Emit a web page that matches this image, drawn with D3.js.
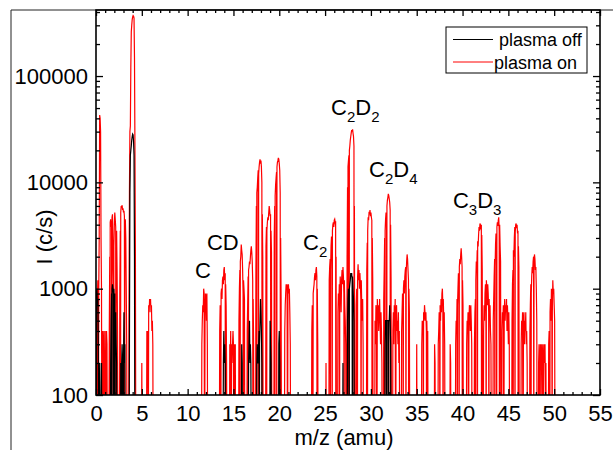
<!DOCTYPE html>
<html><head><meta charset="utf-8">
<script src="https://cdn.jsdelivr.net/npm/d3@7/dist/d3.min.js"></script>
<style>
html,body{margin:0;padding:0;background:#fff;}
svg{display:block;font-family:"Liberation Sans",Arial,sans-serif;}
</style></head>
<body>
<svg id="chart" width="613" height="450"></svg>
<script>
// ---- data: m/z (amu) vs intensity (c/s); 0 = below detection (off-scale) ----
const seriesNames = ["plasma off", "plasma on"];
const xMajorTicks = [0,5,10,15,20,25,30,35,40,45,50,55];
const xMinorTicks = d3.range(0,56,1).filter(v => v % 5 !== 0);
const yMajorTicks = [100,1000,10000,100000];
const yMinorTicks = [200,300,400,500,600,700,800,900,2000,3000,4000,5000,6000,7000,8000,9000,
  20000,30000,40000,50000,60000,70000,80000,90000,200000,300000,400000];

const plasmaOn = [
[0.0,0],[0.05,300],[0.1,0],[0.15,800],[0.2,1200],[0.25,0],[0.3,1000],[0.35,3000],[0.4,43000],[0.45,40000],[0.5,30000],[0.55,3000],[0.6,1000],[0.65,0],[0.7,400],[0.75,0],[0.8,300],[0.85,400],[0.9,0],[1.0,400],[1.05,0],[1.15,400],[1.2,300],[1.25,0],
[1.4,0],[1.45,400],[1.5,2000],[1.55,4200],[1.6,4500],[1.65,3800],[1.7,4300],[1.75,4700],[1.8,5000],[1.85,2000],[1.9,1200],[1.95,2500],[2.0,4000],[2.05,5200],[2.1,4500],[2.15,3800],[2.2,3000],[2.25,3500],[2.3,1500],[2.35,400],[2.4,0],
[2.55,0],[2.6,1000],[2.65,3500],[2.7,5200],[2.75,6000],[2.8,5800],[2.85,6100],[2.9,5500],[2.95,5700],[3.0,5200],[3.05,5400],[3.1,4800],[3.15,4000],[3.2,4500],[3.25,3000],[3.3,1000],[3.35,300],[3.4,0],
[3.55,0],[3.6,600],[3.65,8000],[3.7,30000],[3.75,34000],[3.8,120000],[3.85,260000],[3.9,300000],[3.95,340000],[4.0,360000],[4.05,370000],[4.1,365000],[4.15,350000],[4.2,150000],[4.25,20000],[4.3,2000],[4.35,0],
[4.95,0],[5.0,200],[5.05,0],
[5.5,0],[5.55,400],[5.6,300],[5.65,400],[5.7,0],[5.75,700],[5.8,600],[5.85,800],[5.9,700],[5.95,800],[6.0,600],[6.05,700],[6.1,400],[6.15,500],[6.2,300],[6.25,0],
[11.5,0],[11.55,300],[11.6,500],[11.65,700],[11.7,600],[11.75,1000],[11.8,900],[11.85,0],[11.9,600],[11.95,900],[12.0,800],[12.05,500],[12.1,900],[12.15,300],[12.2,0],
[13.45,0],[13.5,400],[13.55,700],[13.6,600],[13.65,900],[13.7,1000],[13.75,800],[13.8,1200],[13.85,1300],[13.9,1100],[13.95,1500],[14.0,1600],[14.05,1200],[14.1,1400],[14.15,1100],[14.2,700],[14.25,200],[14.3,0],
[14.55,0],[14.6,300],[14.65,200],[14.7,400],[14.75,0],[14.8,300],[14.85,200],[14.9,300],[14.95,400],[15.0,300],[15.05,0],[15.1,300],[15.15,200],[15.2,300],[15.25,0],
[15.55,0],[15.6,500],[15.65,1000],[15.7,1500],[15.75,1800],[15.8,2000],[15.85,2600],[15.9,2300],[15.95,2100],[16.0,1500],[16.05,900],[16.1,1200],[16.15,1000],[16.2,800],[16.25,0],
[16.45,0],[16.5,400],[16.55,700],[16.6,1300],[16.65,1500],[16.7,1600],[16.75,1800],[16.8,1700],[16.85,2000],[16.9,2300],[16.95,2500],[17.0,2200],[17.05,1800],[17.1,1200],[17.15,800],[17.2,300],[17.25,0],
[17.4,0],[17.45,1500],[17.5,6000],[17.55,8000],[17.6,9000],[17.65,11000],[17.7,13000],[17.75,12000],[17.8,14000],[17.85,15500],[17.9,16500],[17.95,15000],[18.0,16000],[18.05,14000],[18.1,10000],[18.15,5000],[18.2,2000],[18.25,0],
[18.5,0],[18.55,2500],[18.6,3800],[18.65,3500],[18.7,4200],[18.75,4700],[18.8,4400],[18.85,5200],[18.9,6000],[18.95,5500],[19.0,4800],[19.05,5000],[19.1,3500],[19.15,2200],[19.2,0],
[19.4,0],[19.45,3000],[19.5,6000],[19.55,7500],[19.6,9500],[19.65,11000],[19.7,12500],[19.75,14000],[19.8,15500],[19.85,16000],[19.9,17000],[19.95,16500],[20.0,15000],[20.05,13000],[20.1,8000],[20.15,3000],[20.2,800],[20.25,0],
[20.55,0],[20.6,400],[20.65,700],[20.7,900],[20.75,1100],[20.8,1000],[20.85,1100],[20.9,0],[20.95,1000],[21.0,1100],[21.05,900],[21.1,1000],[21.15,600],[21.2,300],[21.25,0],
[23.5,0],[23.55,400],[23.6,700],[23.65,600],[23.7,900],[23.75,1000],[23.8,1100],[23.85,1300],[23.9,1400],[23.95,1200],[24.0,1500],[24.05,1600],[24.1,1300],[24.15,1000],[24.2,300],[24.25,0],
[25.05,0],[25.1,200],[25.15,0],
[25.4,0],[25.45,1200],[25.5,1600],[25.55,1900],[25.6,1500],[25.65,2500],[25.7,3100],[25.75,2800],[25.8,3500],[25.85,4000],[25.9,4200],[25.95,3800],[26.0,4400],[26.05,4500],[26.1,4200],[26.15,4300],[26.2,2000],[26.25,0],
[26.35,0],[26.4,600],[26.45,900],[26.5,700],[26.55,1100],[26.6,800],[26.65,1300],[26.7,1000],[26.75,600],[26.8,1200],[26.85,1500],[26.9,1100],[26.95,1600],[27.0,1300],[27.05,900],[27.1,1200],[27.15,700],[27.2,500],[27.25,300],[27.3,0],
[27.35,0],[27.4,2000],[27.45,9000],[27.5,14000],[27.55,16000],[27.6,18000],[27.65,20000],[27.7,22000],[27.75,25000],[27.8,27000],[27.85,29000],[27.9,31000],[27.95,30000],[28.0,31500],[28.05,29000],[28.1,27000],[28.15,22000],[28.2,6000],[28.25,0],
[28.35,0],[28.4,700],[28.45,1000],[28.5,800],[28.55,1300],[28.6,1700],[28.65,1200],[28.7,1500],[28.75,1000],[28.8,1400],[28.85,1100],[28.9,800],[28.95,1200],[29.0,700],[29.05,500],[29.1,800],[29.15,300],[29.2,0],
[29.5,0],[29.55,1500],[29.6,2700],[29.65,3500],[29.7,4700],[29.75,4400],[29.8,5300],[29.85,5000],[29.9,5500],[29.95,4800],[30.0,5200],[30.05,4700],[30.1,4400],[30.15,3000],[30.2,1200],[30.25,0],
[30.4,0],[30.45,500],[30.5,300],[30.55,700],[30.6,600],[30.65,0],[30.7,800],[30.75,500],[30.8,700],[30.85,400],[30.9,600],[30.95,800],[31.0,500],[31.05,300],[31.1,600],[31.15,400],[31.2,200],[31.25,0],
[31.35,0],[31.4,800],[31.45,1500],[31.5,3000],[31.55,3500],[31.6,4500],[31.65,5200],[31.7,5000],[31.75,6000],[31.8,6800],[31.85,7200],[31.9,7800],[31.95,7500],[32.0,7000],[32.05,6500],[32.1,5500],[32.15,4000],[32.2,1200],[32.25,0],
[32.35,0],[32.4,400],[32.45,600],[32.5,300],[32.55,700],[32.6,500],[32.65,800],[32.7,0],[32.75,600],[32.8,700],[32.85,400],[32.9,500],[32.95,300],[33.0,600],[33.05,200],[33.1,400],[33.15,0],
[33.3,0],[33.35,400],[33.4,600],[33.45,900],[33.5,700],[33.55,1000],[33.6,1200],[33.65,900],[33.7,1300],[33.75,1500],[33.8,1600],[33.85,1400],[33.9,1800],[33.95,2100],[34.0,1900],[34.05,1500],[34.1,1200],[34.15,1000],[34.2,600],[34.25,0],
[34.95,0],[35.0,300],[35.05,0],
[35.5,0],[35.55,300],[35.6,500],[35.65,400],[35.7,500],[35.75,600],[35.8,500],[35.85,700],[35.9,600],[35.95,500],[36.0,600],[36.05,400],[36.1,500],[36.15,300],[36.2,400],[36.25,0],
[36.9,0],[36.95,300],[37.0,200],[37.05,0],
[37.3,0],[37.35,300],[37.4,400],[37.45,600],[37.5,500],[37.55,700],[37.6,500],[37.65,800],[37.7,600],[37.75,900],[37.8,1000],[37.85,700],[37.9,800],[37.95,500],[38.0,600],[38.05,300],[38.1,0],
[38.6,0],[38.65,300],[38.7,200],[38.75,0],
[39.2,0],[39.25,300],[39.3,500],[39.35,400],[39.4,800],[39.45,700],[39.5,1000],[39.55,1400],[39.6,1200],[39.65,1600],[39.7,1900],[39.75,1700],[39.8,2100],[39.85,2400],[39.9,2000],[39.95,1600],[40.0,1200],[40.05,700],[40.1,0],
[40.4,0],[40.45,300],[40.5,500],[40.55,400],[40.6,600],[40.65,0],[40.7,500],[40.75,700],[40.8,600],[40.85,400],[40.9,700],[40.95,500],[41.0,300],[41.05,0],
[41.25,0],[41.3,300],[41.35,600],[41.4,800],[41.45,1200],[41.5,1800],[41.55,1500],[41.6,2300],[41.65,2800],[41.7,2500],[41.75,3200],[41.8,3800],[41.85,3500],[41.9,4100],[41.95,4000],[42.0,3600],[42.05,4000],[42.1,3200],[42.15,1500],[42.2,0],
[42.25,0],[42.3,400],[42.35,700],[42.4,500],[42.45,900],[42.5,1100],[42.55,800],[42.6,1200],[42.65,1000],[42.7,700],[42.75,1100],[42.8,900],[42.85,600],[42.9,800],[42.95,500],[43.0,700],[43.05,400],[43.1,300],[43.15,0],
[43.3,0],[43.35,500],[43.4,800],[43.45,1300],[43.5,1900],[43.55,1600],[43.6,2600],[43.65,3300],[43.7,3000],[43.75,3800],[43.8,4200],[43.85,3900],[43.9,4400],[43.95,4700],[44.0,3500],[44.05,4000],[44.1,2500],[44.15,1800],[44.2,0],
[44.25,0],[44.3,400],[44.35,600],[44.4,500],[44.45,700],[44.5,0],[44.55,600],[44.6,800],[44.65,500],[44.7,700],[44.75,600],[44.8,800],[44.85,400],[44.9,700],[44.95,500],[45.0,300],[45.05,600],[45.1,300],[45.15,0],
[45.35,0],[45.4,500],[45.45,1100],[45.5,1500],[45.55,2300],[45.6,2000],[45.65,3000],[45.7,3800],[45.75,3400],[45.8,4000],[45.85,4100],[45.9,3700],[45.95,4000],[46.0,3300],[46.05,3500],[46.1,2500],[46.15,1600],[46.2,0],
[46.35,0],[46.4,300],[46.45,500],[46.5,400],[46.55,600],[46.6,0],[46.65,500],[46.7,600],[46.75,300],[46.8,500],[46.85,400],[46.9,600],[46.95,300],[47.0,400],[47.05,200],[47.1,0],
[47.3,0],[47.35,400],[47.4,700],[47.45,1100],[47.5,900],[47.55,1300],[47.6,1600],[47.65,1400],[47.7,1800],[47.75,2000],[47.8,1700],[47.85,2100],[47.9,1900],[47.95,1500],[48.0,1600],[48.05,1000],[48.1,500],[48.15,0],
[48.25,0],[48.3,200],[48.35,300],[48.4,200],[48.45,0],[48.5,300],[48.55,200],[48.6,300],[48.65,100],[48.7,200],[48.75,300],[48.8,0],[48.85,200],[48.9,300],[48.95,200],[49.0,300],[49.05,100],[49.1,200],[49.15,0],
[49.35,0],[49.4,300],[49.45,400],[49.5,300],[49.55,600],[49.6,800],[49.65,500],[49.7,1000],[49.75,800],[49.8,600],[49.85,1200],[49.9,900],[49.95,1000],[50.0,700],[50.05,500],[50.1,0]
];
// m/z positions where the "plasma on" signal momentarily drops to zero (spikes to the floor)
const plasmaOnDropouts = [1.525,1.725,1.925,2.175,2.675,3.125,13.625,14.125,15.725,16.075,16.625,17.125,
  17.525,17.725,18.125,18.625,19.075,19.525,19.725,20.125,23.675,24.125,25.575,25.775,26.175,26.575,27.075,
  27.475,27.625,28.175,28.525,28.925,29.625,30.125,31.525,31.725,32.125,33.525,33.825,34.125,35.725,36.075,
  37.525,37.875,39.425,39.625,39.975,41.425,41.625,42.075,42.575,42.875,43.525,43.725,44.025,45.525,45.725,
  46.075,47.475,47.775,49.525,49.775];

const plasmaOff = [
[0.0,0],[0.05,900],[0.1,1000],[0.15,700],[0.2,800],[0.25,300],[0.3,0],[0.4,200],[0.45,0],[0.6,200],[0.65,0],
[1.55,0],[1.6,200],[1.65,500],[1.7,900],[1.75,1000],[1.8,1100],[1.85,1000],[1.9,900],[1.95,1000],[2.0,700],[2.05,900],[2.1,500],[2.15,600],[2.2,300],[2.25,200],[2.3,0],
[2.65,0],[2.7,200],[2.75,0],[2.8,200],[2.85,300],[2.9,200],[2.95,0],[3.0,200],[3.05,600],[3.1,200],[3.15,300],[3.2,0],
[3.6,0],[3.65,300],[3.7,8000],[3.75,18000],[3.8,20000],[3.85,22000],[3.9,25000],[3.95,27000],[4.0,28500],[4.05,28000],[4.1,24000],[4.15,18000],[4.2,2000],[4.25,0],
[13.85,0],[13.9,200],[13.95,400],[14.0,200],[14.05,300],[14.1,200],[14.15,0],
[15.85,0],[15.9,300],[15.95,200],[16.0,0],
[16.6,0],[16.65,200],[16.7,300],[16.75,500],[16.8,200],[16.85,300],[16.9,200],[16.95,0],
[17.5,0],[17.55,200],[17.6,300],[17.65,200],[17.7,200],[17.75,300],[17.8,400],[17.85,300],[17.9,500],[17.95,800],[18.0,600],[18.05,400],[18.1,200],[18.15,0],
[18.95,0],[19.0,500],[19.05,300],[19.1,200],[19.15,0],
[19.9,0],[19.95,300],[20.0,400],[20.05,200],[20.1,0],
[26.9,0],[26.95,200],[27.0,0],
[27.4,0],[27.45,500],[27.5,800],[27.55,1000],[27.6,900],[27.65,1000],[27.7,1100],[27.75,1200],[27.8,1400],[27.85,1300],[27.9,1400],[27.95,1200],[28.0,1300],[28.05,1000],[28.1,800],[28.15,500],[28.2,0],
[31.5,0],[31.55,300],[31.6,500],[31.65,500],[31.7,500],[31.75,500],[31.8,500],[31.85,500],[31.9,500],[31.95,500],[32.0,500],[32.05,700],[32.1,500],[32.15,300],[32.2,0]
];
const plasmaOffDropouts = [1.725,1.925,2.075,17.825,27.625,27.975,31.725,31.925];

// peak labels: text parts [main, subscript, ...] anchored at (m/z, intensity)
const peakLabels = [
  {parts:["C"], mz:10.8, I:1260},
  {parts:["CD"], mz:12.1, I:2310},
  {parts:["C","2"], mz:22.6, I:2310},
  {parts:["C","2","D","2"], mz:25.65, I:43000},
  {parts:["C","2","D","4"], mz:29.8, I:11200},
  {parts:["C","3","D","3"], mz:38.95, I:5740}
];

// ---- layout ----
const svg = d3.select("#chart");
const L = 96, R = 600, T = 10, B = 395;
const x = d3.scaleLinear().domain([0,55]).range([L,R]);
const y = d3.scaleLog().domain([100,418000]).range([B,T]);
const FONT = 22;

function withDropouts(series, drops){
  return series.concat(drops.map(m => [m,0])).sort((a,b) => a[0]-b[0]);
}

// outer frame
svg.append("path").attr("d", `M11,450V10H613`).attr("fill","none").attr("stroke","#222").attr("stroke-width",1);

// clip
svg.append("clipPath").attr("id","clip").append("rect")
  .attr("x",L).attr("y",T).attr("width",R-L).attr("height",B-T);

const line = d3.line()
  .x(d => x(d[0]))
  .y(d => y(d[1] > 0 ? d[1] : 10));

const plot = svg.append("g").attr("clip-path","url(#clip)");
plot.append("path").datum(withDropouts(plasmaOn, plasmaOnDropouts)).attr("d", line)
  .attr("fill","none").attr("stroke","#ff0000").attr("stroke-width",1.2);
plot.append("path").datum(withDropouts(plasmaOff, plasmaOffDropouts)).attr("d", line)
  .attr("fill","none").attr("stroke","#000").attr("stroke-width",1.2);

// axes
function styleAxis(g){
  g.select(".domain").remove();
  g.selectAll(".tick line").attr("stroke","#000").attr("stroke-width",1.3);
  g.selectAll("text").attr("font-size",FONT).attr("fill","#000")
    .attr("font-family",'"Liberation Sans",Arial,sans-serif');
}
// bottom
svg.append("g").attr("transform",`translate(0,${B})`)
  .call(d3.axisBottom(x).tickValues(xMajorTicks).tickSize(-6).tickPadding(10).tickFormat(d3.format("d")))
  .call(styleAxis);
svg.append("g").attr("transform",`translate(0,${B})`)
  .call(d3.axisBottom(x).tickValues(xMinorTicks).tickSize(-3).tickFormat(""))
  .call(styleAxis);
// top
svg.append("g").attr("transform",`translate(0,${T})`)
  .call(d3.axisTop(x).tickValues(xMajorTicks).tickSize(-6).tickFormat(""))
  .call(styleAxis);
svg.append("g").attr("transform",`translate(0,${T})`)
  .call(d3.axisTop(x).tickValues(xMinorTicks).tickSize(-3).tickFormat(""))
  .call(styleAxis);
// left
svg.append("g").attr("transform",`translate(${L},0)`)
  .call(d3.axisLeft(y).tickValues(yMajorTicks).tickSize(-7).tickPadding(8).tickFormat(d3.format("d")))
  .call(styleAxis);
svg.append("g").attr("transform",`translate(${L},0)`)
  .call(d3.axisLeft(y).tickValues(yMinorTicks).tickSize(-4).tickFormat(""))
  .call(styleAxis);
// right
svg.append("g").attr("transform",`translate(${R},0)`)
  .call(d3.axisRight(y).tickValues(yMajorTicks).tickSize(-7).tickFormat(""))
  .call(styleAxis);
svg.append("g").attr("transform",`translate(${R},0)`)
  .call(d3.axisRight(y).tickValues(yMinorTicks).tickSize(-4).tickFormat(""))
  .call(styleAxis);

// plot box
svg.append("rect").attr("x",L).attr("y",T).attr("width",R-L).attr("height",B-T)
  .attr("fill","none").attr("stroke","#000").attr("stroke-width",1.6);

// axis titles
svg.append("text").attr("x",(L+R)/2 - 4).attr("y",445).attr("text-anchor","middle")
  .attr("font-size",FONT).text("m/z (amu)");
svg.append("text").attr("transform","translate(52,237) rotate(-90)").attr("text-anchor","middle")
  .attr("font-size",FONT).text("I (c/s)");

// peak labels
peakLabels.forEach(lb => {
  const t = svg.append("text").attr("x", x(lb.mz)).attr("y", y(lb.I)).attr("font-size",FONT);
  lb.parts.forEach((p,i) => {
    const sub = i % 2 === 1;
    t.append("tspan").text(p)
      .attr("font-size", sub ? 15 : FONT)
      .attr("dy", i === 0 ? 0 : (sub ? 7 : -7));
  });
});

// legend
const lg = svg.append("g");
lg.append("rect").attr("x",446).attr("y",27).attr("width",141).attr("height",46)
  .attr("fill","#fff").attr("stroke","#000").attr("stroke-width",1);
const legendColors = ["#000","#ff0000"];
seriesNames.forEach((n,i) => {
  const yy = 39.5 + i*22.5;
  lg.append("line").attr("x1",453).attr("x2",493).attr("y1",yy).attr("y2",yy)
    .attr("stroke",legendColors[i]).attr("stroke-width",1);
  lg.append("text").attr("x", i===0 ? 499 : 494).attr("y", yy+6.5)
    .attr("font-size",18).text(n);
});
</script>
</body></html>
